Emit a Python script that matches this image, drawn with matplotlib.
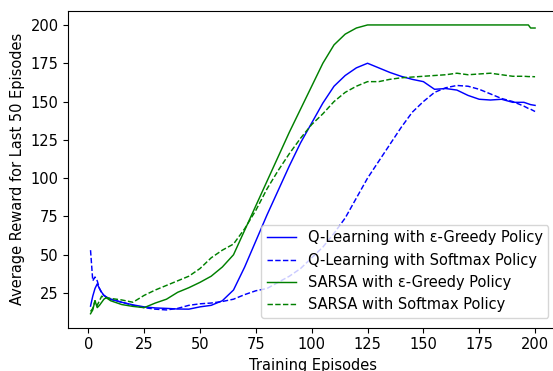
import matplotlib
matplotlib.use("Agg")
import matplotlib.pyplot as plt

plt.rcParams['font.size'] = 10.5

# episodes where values were read
episodes = [1, 2, 3, 4, 5, 6, 7, 8, 10, 15, 20, 25, 30, 35, 40, 45, 50, 55, 60, 65,
            70, 75, 80, 85, 90, 95, 100, 105, 110, 115, 120, 125, 130, 135, 140, 145,
            150, 155, 160, 165, 170, 175, 180, 185, 190, 195, 197, 198, 200]

# Q-Learning, e-greedy
q_greedy = [16.5, 23, 28, 31, 28, 25.5, 23.5, 22.5, 21, 19, 17.3, 16, 15.3, 15, 14.6, 14.5, 16, 17, 20, 27,
            42, 59, 76, 92, 108, 123, 136, 149, 160, 167, 172, 175, 172, 169, 166.5, 164.5,
            163, 158, 158.5, 157.5, 154, 151.5, 151, 151.5, 149.5, 149.5, 148.5, 148, 147.5]

# Q-Learning, softmax
q_softmax = [53, 33, 35.5, 33, 28, 25, 23.5, 22.5, 21, 19, 17, 15.5, 14.5, 14, 15, 17, 18, 18.5, 19.5, 21,
             24, 26.5, 28, 32, 36, 41, 48, 55, 64, 74, 87, 100, 111, 122, 133, 143,
             150, 156, 159, 160.5, 160, 158, 155, 152, 150, 147, 145.5, 145, 143.5]

# SARSA, e-greedy
s_greedy = [11.5, 14, 20, 15.5, 17, 19, 21, 22, 20, 17.5, 16.3, 15.5, 18.5, 21, 25.5, 28.5, 32, 36, 42, 50,
            66, 82, 98, 114, 130, 145, 160, 175, 187, 194, 198, 200, 200, 200, 200, 200,
            200, 200, 200, 200, 200, 200, 200, 200, 200, 200, 200, 198, 198]

# SARSA, softmax
s_softmax = [13, 15, 20, 17, 20, 23, 22, 22, 21.5, 20.5, 19, 23.5, 27, 30, 33, 36, 41, 48, 53, 57,
             67, 79, 93, 105, 116, 126, 135, 142, 150, 156, 160, 163, 163, 164.5, 165.5, 166,
             166.5, 167, 167.5, 168.5, 167.5, 168, 168.5, 167.5, 166.5, 166.5, 166.3, 166.3, 166.2]

fig = plt.figure(figsize=(5.53, 3.71), dpi=100)
ax = fig.add_axes([68.3 / 553, 43.3 / 371, 489 / 553, 317 / 371])

ax.plot(episodes, q_greedy, 'b-', lw=1.05, label='Q-Learning with ε-Greedy Policy')
ax.plot(episodes, q_softmax, 'b--', lw=1.05, label='Q-Learning with Softmax Policy')
ax.plot(episodes, s_greedy, 'g-', lw=1.05, label='SARSA with ε-Greedy Policy')
ax.plot(episodes, s_softmax, 'g--', lw=1.05, label='SARSA with Softmax Policy')

ax.set_xlim(-8.95, 209.95)
ax.set_ylim(2.4, 209.3)
ax.set_xticks([0, 25, 50, 75, 100, 125, 150, 175, 200])
ax.set_yticks([25, 50, 75, 100, 125, 150, 175, 200])
ax.set_xlabel('Training Episodes')
ax.set_ylabel('Average Reward for Last 50 Episodes')
ax.legend(loc='lower right', bbox_to_anchor=(0.982, 0.03), borderaxespad=0)

fig.savefig('out.png', dpi=100)
